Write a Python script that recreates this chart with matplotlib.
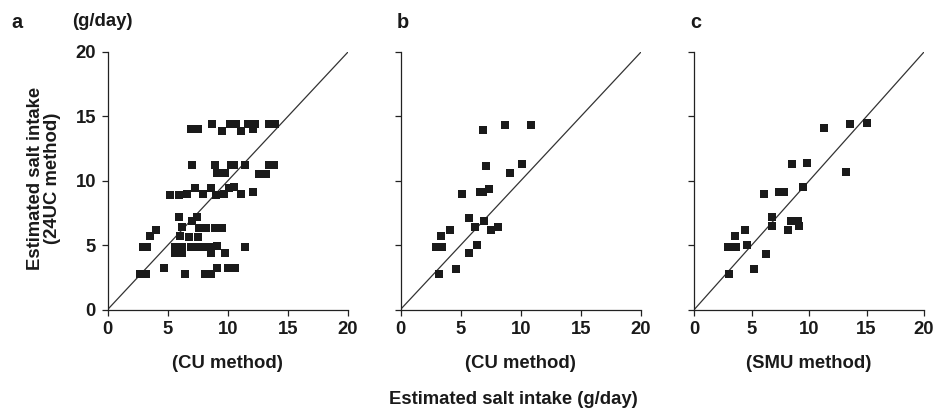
import matplotlib
matplotlib.use("Agg")
import matplotlib.pyplot as plt

plt.rcParams['font.family'] = ['Liberation Sans', 'DejaVu Sans']
plt.rcParams['font.weight'] = 'bold'
FS = 13.3

# panel a: CU method vs 24UC method
a_x = [6.9, 7.5, 8.7, 9.5, 10.2, 10.7, 11.1, 11.65, 12.1, 12.3, 13.4, 13.9,
       7.0, 8.9, 9.1, 9.8, 10.25, 10.5, 11.4, 12.6, 13.2, 13.4, 13.8,
       5.2, 5.95, 6.6, 7.3, 7.9, 8.6, 9.0, 9.7, 10.1, 10.55, 11.1, 12.1,
       5.9, 7.4, 7.0, 6.2, 7.6, 8.2, 8.9, 9.5, 4.0, 3.5, 6.0, 6.8, 7.5,
       2.9, 3.3, 5.6, 6.2, 6.9, 7.5, 8.1, 8.6, 9.1, 11.4, 5.6, 6.2, 8.6, 9.8,
       2.7, 3.2, 4.7, 6.4, 8.1, 8.6, 9.1, 10.0, 10.6]
a_y = [14.0, 14.0, 14.4, 13.9, 14.4, 14.4, 13.9, 14.4, 14.0, 14.4, 14.4, 14.4,
       11.2, 11.2, 10.6, 10.6, 11.25, 11.25, 11.25, 10.55, 10.55, 11.25, 11.25,
       8.9, 8.9, 9.0, 9.4, 9.0, 9.4, 8.9, 9.0, 9.4, 9.5, 9.0, 9.1,
       7.2, 7.2, 6.9, 6.4, 6.3, 6.3, 6.3, 6.3, 6.2, 5.7, 5.7, 5.6, 5.6,
       4.85, 4.85, 4.85, 4.85, 4.85, 4.85, 4.85, 4.85, 4.9, 4.85, 4.35, 4.35, 4.35, 4.35,
       2.75, 2.75, 3.2, 2.75, 2.75, 2.75, 3.2, 3.2, 3.2]

# panel b: CU method vs 24UC method (subgroup)
b_x = [6.86, 8.67, 10.83, 7.08, 10.14, 9.08, 5.14, 6.58, 6.86, 7.33, 5.67, 4.08,
       6.17, 6.92, 7.5, 8.14, 3.39, 2.97, 3.44, 6.39, 5.67, 4.58, 3.17]
b_y = [13.93, 14.3, 14.3, 11.17, 11.28, 10.59, 8.95, 9.13, 9.13, 9.34, 7.14, 6.2,
       6.38, 6.89, 6.2, 6.38, 5.69, 4.85, 4.85, 5.0, 4.36, 3.14, 2.76]

# panel c: SMU method vs 24UC method
c_x = [11.28, 13.54, 15.0, 8.47, 9.77, 13.19, 6.11, 7.35, 7.84, 9.43, 6.74, 6.74, 8.41,
       8.99, 8.18, 9.14, 4.38, 3.52, 2.94, 3.6, 4.61, 6.2, 5.16, 3.0]
c_y = [14.07, 14.4, 14.45, 11.28, 11.35, 10.66, 8.99, 9.15, 9.15, 9.49, 7.15, 6.45, 6.84,
       6.84, 6.2, 6.45, 6.2, 5.73, 4.85, 4.85, 5.03, 4.34, 3.18, 2.79]

ticks = [0, 5, 10, 15, 20]
W, H = 933, 412

fig = plt.figure(figsize=(W / 100, H / 100), dpi=100)

panels = [
    (107.7, 348.0, a_x, a_y, 'a', '(CU method)', True),
    (400.5, 641.0, b_x, b_y, 'b', '(CU method)', False),
    (694.3, 924.0, c_x, c_y, 'c', '(SMU method)', False),
]
top, bottom = 52.0, 309.5

for left, right, xs, ys, letter, xlab, first in panels:
    ax = fig.add_axes([left / W, 1 - bottom / H, (right - left) / W, (bottom - top) / H])
    ax.plot([0, 20], [0, 20], color='#333333', lw=0.9)
    ax.plot(xs, ys, 's', color='#1a1a1a', markersize=6, markeredgewidth=0)
    ax.set_xlim(0, 20)
    ax.set_ylim(0, 20)
    ax.set_xticks(ticks)
    ax.set_yticks(ticks)
    if not first:
        ax.set_yticklabels([])
    for s in ['top', 'right']:
        ax.spines[s].set_visible(False)
    for s in ['left', 'bottom']:
        ax.spines[s].set_linewidth(0.9)
        ax.spines[s].set_color('#222222')
    ax.tick_params(direction='out', length=4.5, width=0.9, colors='#222222',
                   labelsize=FS, pad=4)
    for lab in ax.get_xticklabels() + ax.get_yticklabels():
        lab.set_fontweight('bold')
        lab.set_color('#1a1a1a')
    ax.set_xlabel(xlab, fontsize=FS, fontweight='bold', color='#1a1a1a', labelpad=12)
    # panel letter
    lx = 11 if first else left - 4
    fig.text(lx / W, 1 - 28 / H, letter, fontsize=FS + 1, fontweight='bold',
             ha='left', va='baseline', color='#1a1a1a')

fig.text(102 / W, 1 - 22 / H, '(g/day)', fontsize=FS, fontweight='bold',
         ha='center', va='center', color='#1a1a1a')
fig.text(44 / W, 1 - 178 / H, 'Estimated salt intake\n(24UC method)', fontsize=FS,
         fontweight='bold', rotation=90, ha='center', va='center',
         multialignment='center', linespacing=1.0, color='#1a1a1a')
fig.text(513 / W, 1 - 399 / H, 'Estimated salt intake (g/day)', fontsize=FS,
         fontweight='bold', ha='center', va='center', color='#1a1a1a')

fig.savefig('out.png', dpi=100)
